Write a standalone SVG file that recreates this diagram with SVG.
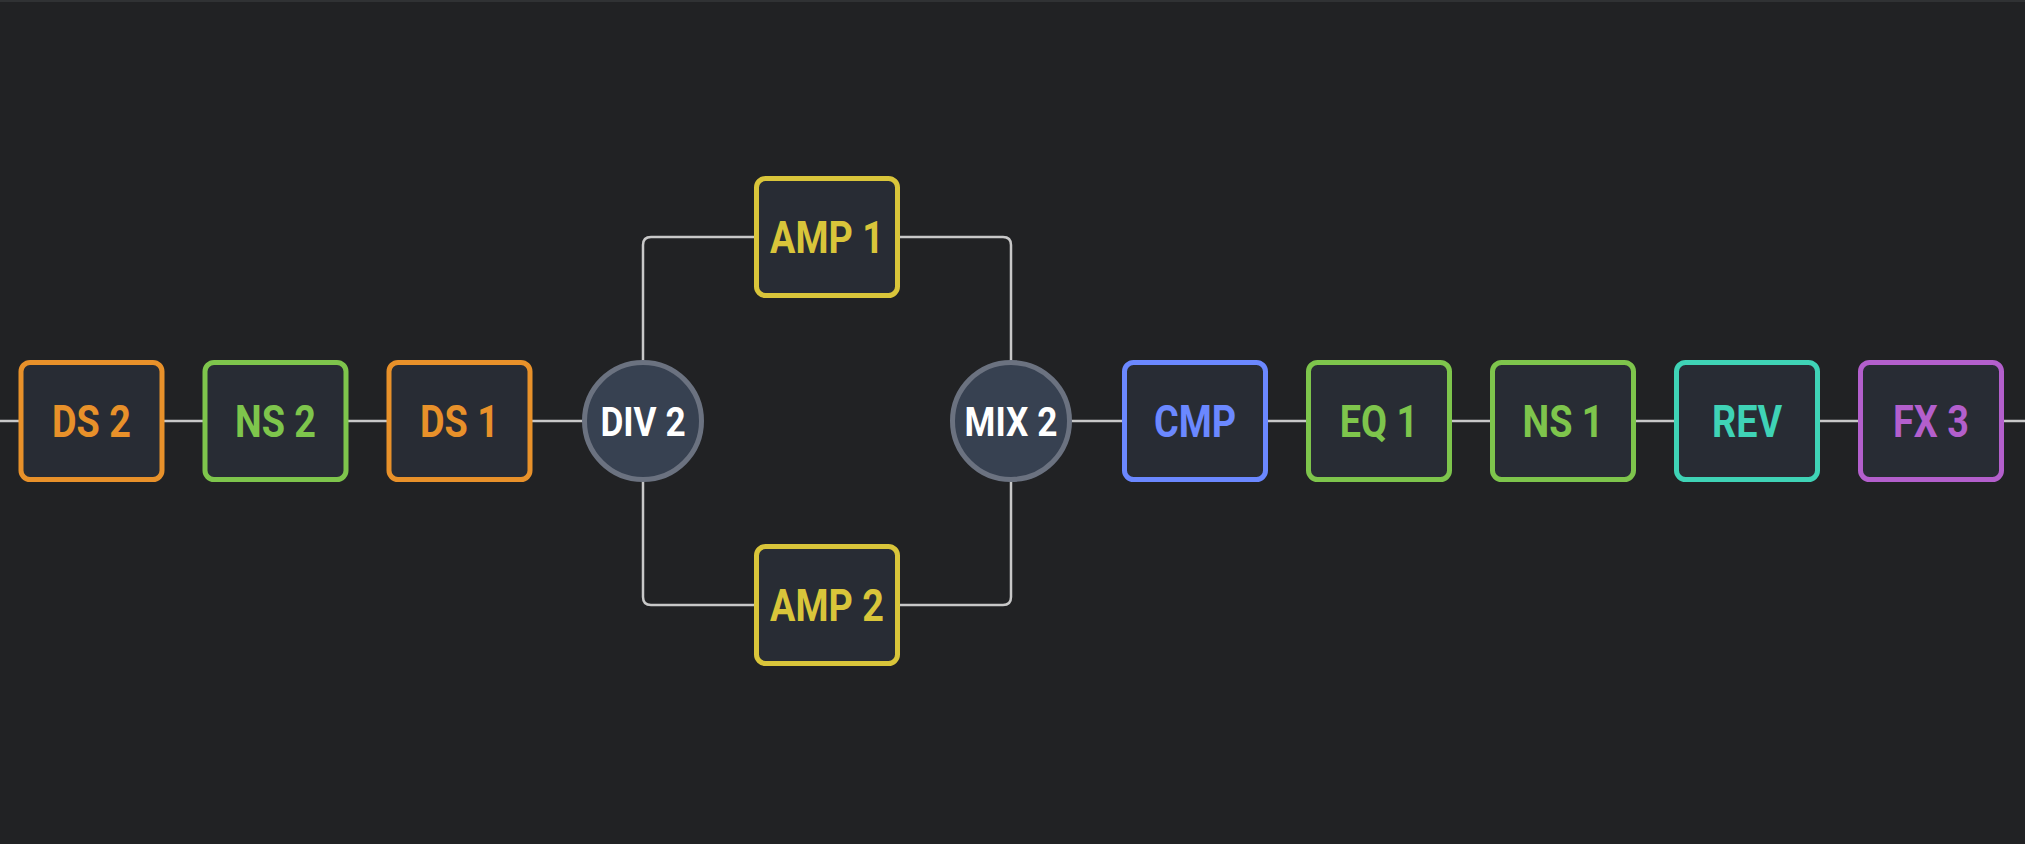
<svg xmlns="http://www.w3.org/2000/svg" width="2025" height="844" viewBox="0 0 2025 844">
<style>
.bg{fill:#212224}
.edge{fill:none;stroke:#c8c8c8;stroke-width:2.5}
.box{fill:#282c34;stroke-width:5}
.circ{fill:#374151;stroke:#6b7280;stroke-width:5}
.lbl{font-family:Roboto,"Liberation Sans",sans-serif;font-weight:700;font-size:45px;text-anchor:middle}
.clbl{font-family:Roboto,"Liberation Sans",sans-serif;font-weight:700;font-size:41px;text-anchor:middle;fill:#ffffff}
.or{stroke:#e8912a}.ort{fill:#e8912a}
.gr{stroke:#7ec54c}.grt{fill:#7ec54c}
.ye{stroke:#d9c53a}.yet{fill:#d9c53a}
.bl{stroke:#6b88ff}.blt{fill:#6b88ff}
.te{stroke:#3fd3b6}.tet{fill:#3fd3b6}
.pu{stroke:#b35fcc}.put{fill:#b35fcc}
</style>
<rect class="bg" x="0" y="0" width="2025" height="844"/>
<rect x="0" y="0" width="2025" height="2" fill="#303234"/>
<g id="connectors">
<path class="edge" d="M0,421H20M160,421H205M345,421H390M530,421H585"/>
<path class="edge" d="M1070,421H1125M1265,421H1310M1450,421H1495M1635,421H1680M1820,421H1860M2000,421H2025"/>
<path class="edge" d="M643,362V245Q643,237 651,237H757"/>
<path class="edge" d="M898,237H1003Q1011,237 1011,245V362"/>
<path class="edge" d="M643,480V597Q643,605 651,605H757"/>
<path class="edge" d="M898,605H1003Q1011,605 1011,597V480"/>
</g>
<g id="ds2"><rect class="box or" x="21" y="362.5" width="141" height="117" rx="9"/><text class="lbl ort" transform="translate(91.5,437) scale(0.84,1)">DS 2</text></g>
<g id="ns2"><rect class="box gr" x="205" y="362.5" width="141" height="117" rx="9"/><text class="lbl grt" transform="translate(275.5,437) scale(0.84,1)">NS 2</text></g>
<g id="ds1"><rect class="box or" x="389" y="362.5" width="141" height="117" rx="9"/><text class="lbl ort" transform="translate(459.5,437) scale(0.84,1)">DS 1</text></g>
<g id="div2"><circle class="circ" cx="643" cy="421" r="58.5"/><text class="clbl" transform="translate(643,435.5) scale(0.86,1)">DIV 2</text></g>
<g id="amp1"><rect class="box ye" x="756.5" y="178.5" width="141" height="117" rx="9"/><text class="lbl yet" transform="translate(827,253) scale(0.84,1)">AMP 1</text></g>
<g id="amp2"><rect class="box ye" x="756.5" y="546.5" width="141" height="117" rx="9"/><text class="lbl yet" transform="translate(827,621) scale(0.84,1)">AMP 2</text></g>
<g id="mix2"><circle class="circ" cx="1011" cy="421" r="58.5"/><text class="clbl" transform="translate(1011,435.5) scale(0.86,1)">MIX 2</text></g>
<g id="cmp"><rect class="box bl" x="1124.5" y="362.5" width="141" height="117" rx="9"/><text class="lbl blt" transform="translate(1195,437) scale(0.84,1)">CMP</text></g>
<g id="eq1"><rect class="box gr" x="1308.5" y="362.5" width="141" height="117" rx="9"/><text class="lbl grt" transform="translate(1379,437) scale(0.84,1)">EQ 1</text></g>
<g id="ns1"><rect class="box gr" x="1492.5" y="362.5" width="141" height="117" rx="9"/><text class="lbl grt" transform="translate(1563,437) scale(0.84,1)">NS 1</text></g>
<g id="rev"><rect class="box te" x="1676.5" y="362.5" width="141" height="117" rx="9"/><text class="lbl tet" transform="translate(1747,437) scale(0.84,1)">REV</text></g>
<g id="fx3"><rect class="box pu" x="1860.5" y="362.5" width="141" height="117" rx="9"/><text class="lbl put" transform="translate(1931,437) scale(0.84,1)">FX 3</text></g>
</svg>
